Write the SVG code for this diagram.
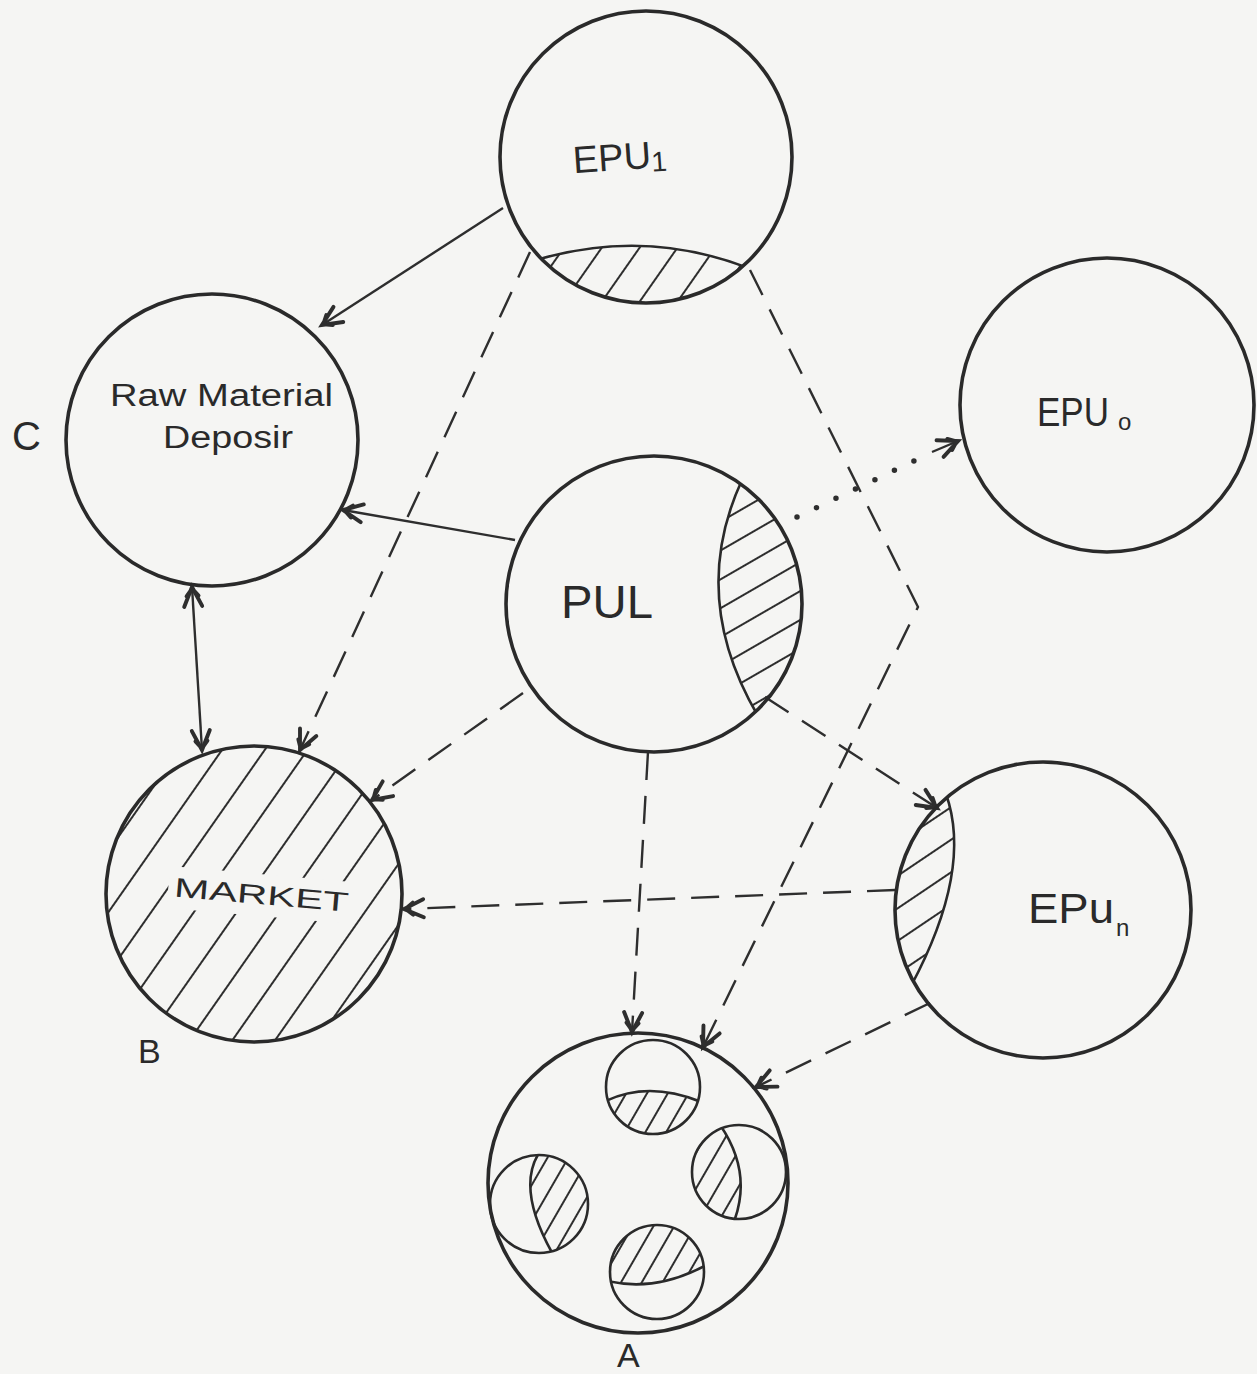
<svg xmlns="http://www.w3.org/2000/svg" width="1257" height="1374" viewBox="0 0 1257 1374">
<style>
.node{fill:none;stroke:#2a2a2a;stroke-width:3.6}
.inner{fill:none;stroke:#2a2a2a;stroke-width:2.6}
.lbl{font-family:"Liberation Sans",Arial,sans-serif;fill:#2a2a2a}
.conn{fill:none;stroke:#2e2e2e;stroke-width:2.4}
.dash{stroke-dasharray:28 16}
.dot{stroke-width:5.5;stroke-linecap:round;stroke-dasharray:0 21.6}
.hl{stroke:#2e2e2e;stroke-width:2}
</style>
<defs>
<marker id="arr" markerUnits="userSpaceOnUse" markerWidth="30" markerHeight="30" viewBox="-16 -10 20 20" refX="0" refY="0" orient="auto-start-reverse">
<path d="M -13 -6 L 0 0 L -13 6 M -6 -4 L -1 0 L -6 4" fill="none" stroke="#2e2e2e" stroke-width="2.6" stroke-linecap="round"/>
</marker>
<pattern id="hMarket" patternUnits="userSpaceOnUse" width="35" height="35" patternTransform="rotate(35)"><line x1="17" y1="0" x2="17" y2="35" class="hl"/></pattern>
<pattern id="hTop" patternUnits="userSpaceOnUse" width="31" height="31" patternTransform="rotate(35)"><line x1="15" y1="0" x2="15" y2="31" class="hl"/></pattern>
<pattern id="hPul" patternUnits="userSpaceOnUse" width="25" height="25" patternTransform="rotate(60)"><line x1="12" y1="0" x2="12" y2="25" class="hl"/></pattern>
<pattern id="hEpn" patternUnits="userSpaceOnUse" width="27" height="27" patternTransform="rotate(56)"><line x1="13" y1="0" x2="13" y2="27" class="hl"/></pattern>
<pattern id="hSmall" patternUnits="userSpaceOnUse" width="18" height="18" patternTransform="rotate(30)"><line x1="9" y1="0" x2="9" y2="18" class="hl"/></pattern>
<clipPath id="cMarket"><circle cx="254" cy="894" r="148"/></clipPath>
<clipPath id="cEpu1"><circle cx="646" cy="157" r="146"/></clipPath>
<clipPath id="cPul"><circle cx="654" cy="604" r="148"/></clipPath>
<clipPath id="cEpn"><circle cx="1043" cy="910" r="148"/></clipPath>
<clipPath id="cA1"><circle cx="653" cy="1087" r="47"/></clipPath>
<clipPath id="cA2"><circle cx="739" cy="1172" r="47"/></clipPath>
<clipPath id="cA3"><circle cx="539" cy="1204" r="49"/></clipPath>
<clipPath id="cA4"><circle cx="657" cy="1272" r="47"/></clipPath>
</defs>
<rect width="1257" height="1374" fill="#f5f5f3"/>

<g id="connectors">
<path class="conn" d="M 503 208 L 322 325" marker-end="url(#arr)"/>
<path class="conn dash" d="M 530 252 L 300 750" marker-end="url(#arr)"/>
<path class="conn dash" d="M 750 270 L 918 607 L 703 1047" marker-end="url(#arr)"/>
<path class="conn" d="M 515 540 L 343 510" marker-end="url(#arr)"/>
<path class="conn dot" d="M 797 517 L 914 461"/>
<path class="conn" d="M 932 452 L 958 441" marker-end="url(#arr)"/>
<path class="conn dash" d="M 523 693 L 372 800" marker-end="url(#arr)"/>
<path class="conn dash" d="M 648 752 L 632 1032" marker-end="url(#arr)"/>
<path class="conn dash" d="M 765 697 L 937 808" marker-end="url(#arr)"/>
<path class="conn" d="M 192 587 L 202 750" marker-start="url(#arr)" marker-end="url(#arr)"/>
<path class="conn dash" d="M 895 890 L 404 909" marker-end="url(#arr)"/>
<path class="conn dash" d="M 930 1003 L 756 1087" marker-end="url(#arr)"/>
</g>

<g id="epu1">
<path fill="url(#hTop)" clip-path="url(#cEpu1)" d="M 536 260 Q 645 228 748 268 L 800 280 L 800 320 L 490 320 L 490 260 Z"/>
<path class="inner" clip-path="url(#cEpu1)" d="M 536 260 Q 645 228 748 268"/>
<circle class="node" cx="646" cy="157" r="146"/>
<text class="lbl" x="573" y="170" font-size="38" transform="rotate(-4 620 160)">EPU<tspan font-size="28" dy="4">1</tspan></text>
</g>

<g id="raw-material">
<circle class="node" cx="212" cy="440" r="146"/>
<text class="lbl" x="110" y="406" font-size="31" textLength="223" lengthAdjust="spacingAndGlyphs">Raw Material</text>
<text class="lbl" x="163" y="448" font-size="31" textLength="130" lengthAdjust="spacingAndGlyphs">Deposir</text>
<text class="lbl" x="12" y="450" font-size="40">C</text>
</g>

<g id="epu0">
<circle class="node" cx="1107" cy="405" r="147"/>
<text class="lbl" x="1037" y="426" font-size="40" textLength="72" lengthAdjust="spacingAndGlyphs">EPU</text>
<text class="lbl" x="1118" y="430" font-size="24">o</text>
</g>

<g id="pul">
<path fill="url(#hPul)" clip-path="url(#cPul)" d="M 742 480 Q 688 597 758 716 L 820 720 L 820 470 Z"/>
<path class="inner" clip-path="url(#cPul)" d="M 742 480 Q 688 597 758 716"/>
<circle class="node" cx="654" cy="604" r="148"/>
<text class="lbl" x="561" y="618" font-size="47" textLength="92" lengthAdjust="spacingAndGlyphs">PUL</text>
</g>

<g id="market">
<rect x="100" y="740" width="310" height="310" fill="url(#hMarket)" clip-path="url(#cMarket)"/>
<rect x="168" y="874" width="188" height="42" fill="#f5f5f3" transform="rotate(5 260 895)"/>
<circle class="node" cx="254" cy="894" r="148"/>
<text class="lbl" x="174" y="904" font-size="27" textLength="175" lengthAdjust="spacingAndGlyphs" transform="rotate(5 260 895)">MARKET</text>
<text class="lbl" x="138" y="1063" font-size="34">B</text>
</g>

<g id="epun">
<path fill="url(#hEpn)" clip-path="url(#cEpn)" d="M 946 794 Q 973 870 911 986 L 880 990 L 880 790 Z"/>
<path class="inner" clip-path="url(#cEpn)" d="M 946 794 Q 973 870 911 986"/>
<circle class="node" cx="1043" cy="910" r="148"/>
<text class="lbl" x="1028" y="923" font-size="42" textLength="86" lengthAdjust="spacingAndGlyphs">EPu</text>
<text class="lbl" x="1116" y="936" font-size="24">n</text>
</g>

<g id="a">
<circle class="node" cx="638" cy="1183" r="150"/>
<path fill="url(#hSmall)" clip-path="url(#cA1)" d="M 600 1104 Q 647 1078 706 1104 L 710 1140 L 596 1140 Z"/>
<path class="inner" clip-path="url(#cA1)" d="M 600 1104 Q 647 1078 706 1104"/>
<circle class="inner" cx="653" cy="1087" r="47"/>
<path fill="url(#hSmall)" clip-path="url(#cA2)" d="M 718 1122 Q 754 1172 733 1224 L 685 1225 L 685 1120 Z"/>
<path class="inner" clip-path="url(#cA2)" d="M 718 1122 Q 754 1172 733 1224"/>
<circle class="inner" cx="739" cy="1172" r="47"/>
<path fill="url(#hSmall)" clip-path="url(#cA3)" d="M 541 1150 Q 514 1187 555 1258 L 595 1260 L 595 1150 Z"/>
<path class="inner" clip-path="url(#cA3)" d="M 541 1150 Q 514 1187 555 1258"/>
<circle class="inner" cx="539" cy="1204" r="49"/>
<path fill="url(#hSmall)" clip-path="url(#cA4)" d="M 604 1280 Q 655 1294 710 1263 L 710 1220 L 600 1220 Z"/>
<path class="inner" clip-path="url(#cA4)" d="M 604 1280 Q 655 1294 710 1263"/>
<circle class="inner" cx="657" cy="1272" r="47"/>
<text class="lbl" x="617" y="1367" font-size="34">A</text>
</g>
</svg>
